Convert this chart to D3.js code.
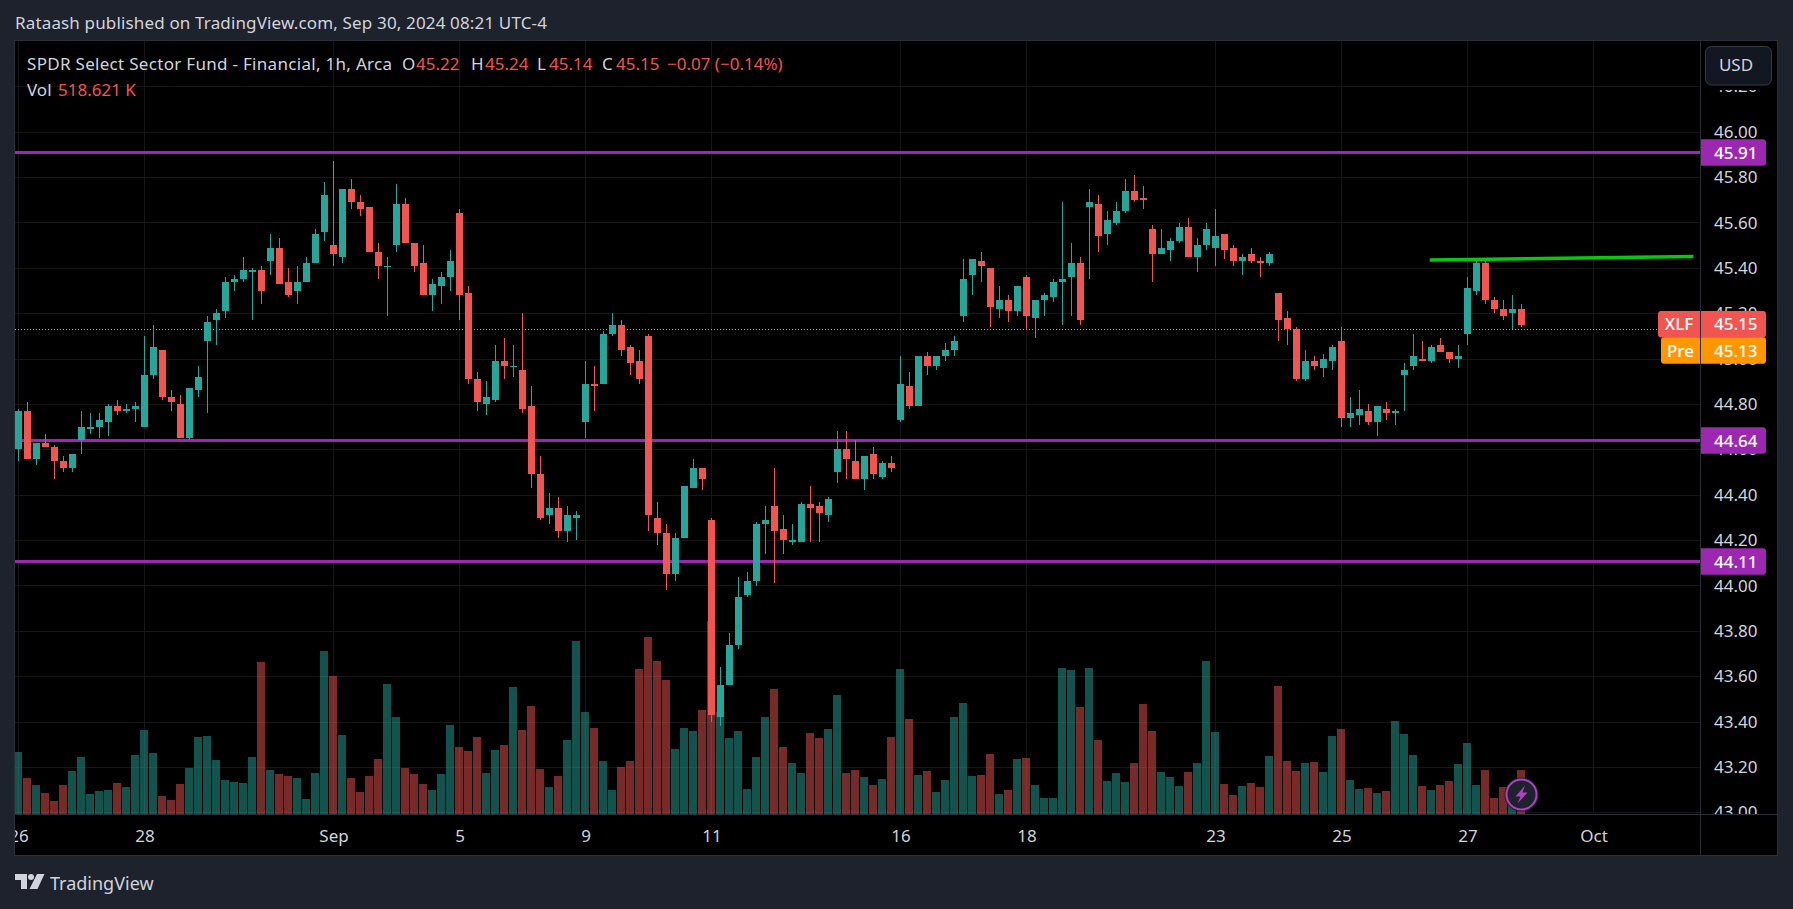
<!DOCTYPE html>
<html>
<head>
<meta charset="utf-8">
<script src="https://cdn.jsdelivr.net/npm/d3@7"></script>
<style>
  html, body { margin: 0; padding: 0; background: #1e222d; overflow: hidden; }
  text { font-family: "Noto Sans", sans-serif; }
</style>
</head>
<body>
<div id="graph-container"></div>
<script>
const opens = [
  44.60,44.77,44.56,44.63,44.61,44.55,44.52,44.64,44.69,44.70,
  44.72,44.79,44.77,44.78,44.70,44.93,45.04,44.83,44.80,44.65,
  44.86,45.08,45.17,45.21,45.34,45.35,45.38,45.39,45.43,45.49,
  45.34,45.30,45.34,45.42,45.56,45.50,45.45,45.75,45.69,45.67,
  45.47,45.41,45.50,45.68,45.51,45.42,45.28,45.32,45.36,45.64,
  45.29,44.91,44.80,44.82,44.99,44.97,44.95,44.79,44.49,44.31,
  44.34,44.24,44.30,44.72,44.89,44.89,45.11,45.15,45.05,44.99,
  45.10,44.30,44.23,44.05,44.21,44.43,44.52,44.29,43.42,43.56,
  43.74,43.96,44.02,44.27,44.35,44.25,44.19,44.19,44.36,44.35,
  44.31,44.50,44.60,44.55,44.47,44.58,44.48,44.54,44.73,44.88,
  44.79,45.01,44.97,45.01,45.04,45.19,45.37,45.43,45.40,45.22,
  45.26,45.21,45.36,45.18,45.26,45.27,45.34,45.36,45.42,45.67,
  45.68,45.55,45.60,45.65,45.74,45.71,45.57,45.46,45.48,45.52,
  45.58,45.45,45.50,45.49,45.55,45.49,45.43,45.46,45.43,45.42,
  45.29,45.18,45.13,44.91,44.99,44.96,44.99,45.08,44.74,44.75,
  44.77,44.72,44.78,44.76,44.93,44.97,45.00,44.99,45.06,45.03,
  45.00,45.11,45.30,45.42,45.26,45.22,45.20,45.22];
const highs = [
  44.78,44.81,44.63,44.67,44.62,44.57,44.58,44.77,44.76,44.76,
  44.80,44.82,44.80,44.81,45.10,45.15,45.04,44.86,44.84,44.87,
  44.97,45.19,45.22,45.36,45.37,45.45,45.40,45.41,45.55,45.53,
  45.40,45.41,45.45,45.57,45.78,45.87,45.75,45.79,45.72,45.67,
  45.51,45.45,45.77,45.71,45.51,45.50,45.35,45.38,45.48,45.66,
  45.32,44.94,44.90,45.06,45.09,45.06,45.20,44.88,44.57,44.41,
  44.39,44.35,44.33,44.99,44.97,45.12,45.20,45.17,45.06,45.04,
  45.11,44.37,44.27,44.23,44.44,44.56,44.52,44.30,43.64,43.79,
  44.04,44.06,44.28,44.35,44.52,44.31,44.27,44.37,44.44,44.37,
  44.39,44.68,44.68,44.64,44.57,44.61,44.55,44.57,45.01,44.94,
  45.01,45.03,45.01,45.07,45.10,45.44,45.44,45.47,45.40,45.32,
  45.28,45.32,45.37,45.26,45.29,45.35,45.69,45.51,45.45,45.75,
  45.72,45.65,45.69,45.79,45.81,45.76,45.59,45.57,45.53,45.60,
  45.62,45.53,45.60,45.66,45.55,45.50,45.46,45.49,45.45,45.47,
  45.29,45.21,45.14,45.04,45.01,45.02,45.06,45.14,44.83,44.86,
  44.80,44.79,44.81,44.78,44.98,45.11,45.08,45.06,45.09,45.03,
  45.06,45.36,45.43,45.43,45.27,45.26,45.28,45.24];
const lows = [
  44.55,44.56,44.53,44.61,44.47,44.50,44.50,44.58,44.67,44.65,
  44.66,44.75,44.76,44.72,44.70,44.91,44.82,44.77,44.65,44.64,
  44.83,44.76,45.06,45.18,45.30,45.34,45.17,45.24,45.37,45.33,
  45.27,45.24,45.34,45.42,45.52,45.41,45.42,45.66,45.63,45.47,
  45.35,45.19,45.47,45.51,45.38,45.28,45.21,45.24,45.30,45.17,
  44.89,44.77,44.75,44.81,44.91,44.92,44.76,44.43,44.29,44.27,
  44.21,44.19,44.20,44.65,44.77,44.89,45.10,45.01,44.93,44.89,
  44.24,44.18,43.98,44.02,44.21,44.43,44.42,43.40,43.38,43.56,
  43.72,43.95,44.00,44.14,44.01,44.14,44.18,44.19,44.19,44.19,
  44.28,44.45,44.47,44.47,44.42,44.47,44.47,44.50,44.72,44.78,
  44.79,44.93,44.95,44.99,45.01,45.16,45.28,45.34,45.14,45.18,
  45.16,45.19,45.13,45.09,45.19,45.25,45.15,45.19,45.15,45.35,
  45.47,45.50,45.59,45.64,45.69,45.66,45.34,45.46,45.43,45.51,
  45.45,45.38,45.48,45.41,45.44,45.41,45.37,45.42,45.36,45.41,
  45.08,45.06,44.90,44.90,44.95,44.92,44.95,44.70,44.70,44.71,
  44.71,44.66,44.73,44.71,44.77,44.95,44.99,44.98,45.03,44.98,
  44.96,45.06,45.28,45.24,45.20,45.17,45.13,45.14];
const closes = [
  44.77,44.56,44.63,44.61,44.55,44.52,44.58,44.70,44.70,44.73,
  44.79,44.77,44.78,44.79,44.93,45.05,44.83,44.81,44.65,44.87,
  44.92,45.16,45.20,45.34,45.35,45.39,45.39,45.30,45.49,45.33,
  45.28,45.34,45.42,45.55,45.72,45.46,45.75,45.69,45.66,45.47,
  45.41,45.41,45.68,45.51,45.41,45.28,45.33,45.36,45.43,45.28,
  44.91,44.81,44.83,44.99,44.97,44.97,44.78,44.49,44.30,44.34,
  44.24,44.31,44.31,44.89,44.88,45.11,45.15,45.04,44.98,44.91,
  44.31,44.23,44.05,44.21,44.44,44.52,44.47,43.43,43.56,43.74,
  43.95,44.02,44.27,44.29,44.24,44.20,44.20,44.36,44.34,44.32,
  44.38,44.60,44.56,44.47,44.57,44.49,44.54,44.52,44.89,44.79,
  45.01,44.97,45.01,45.04,45.08,45.35,45.44,45.41,45.23,45.26,
  45.21,45.32,45.19,45.26,45.28,45.34,45.35,45.42,45.17,45.69,
  45.54,45.61,45.65,45.74,45.70,45.70,45.46,45.49,45.52,45.58,
  45.45,45.50,45.57,45.54,45.48,45.43,45.45,45.43,45.42,45.46,
  45.17,45.13,44.91,44.99,44.97,45.00,45.05,44.74,44.76,44.78,
  44.72,44.79,44.76,44.77,44.95,45.01,44.99,45.05,45.03,45.00,
  45.01,45.31,45.42,45.26,45.22,45.19,45.22,45.15];
// volume in thousands of shares
const volumes = [
  731,424,342,248,153,342,507,672,236,271,
  283,365,318,696,990,719,212,165,354,542,
  908,920,637,401,377,365,672,1792,519,472,
  448,424,177,483,1922,1627,931,424,259,448,
  648,1533,1144,542,472,354,283,472,1049,790,
  743,908,483,755,814,1497,990,1273,531,318,
  448,872,2040,1203,1014,625,283,554,625,1710,
  2087,1804,1580,766,1014,979,1226,2275,1203,896,
  979,295,672,1144,1474,790,601,483,955,896,
  1002,1403,483,519,436,342,413,908,1710,1120,
  460,507,259,401,1144,1309,448,460,707,236,
  283,648,660,342,189,189,1721,1698,1262,1721,
  872,389,483,377,601,1297,979,495,436,330,
  495,601,1804,967,354,224,330,365,318,684,
  1509,625,507,601,613,495,920,1002,401,295,
  307,248,271,1096,943,696,330,283,342,389,
  590,837,342,519,189,318,322,519];

const dayIndex = [0,14,35,49,63,77,98,112,133,147,161,175];
const dayLabels = ["26","28","Sep","5","9","11","16","18","23","25","27","Oct"];
const priceTicks = [46.2,46,45.8,45.6,45.4,45.2,45,44.8,44.6,44.4,44.2,44,43.8,43.6,43.4,43.2,43];
const levels = [45.91,44.64,44.11];
const trendBars = [156.8,186.1];
const trendPrices = [45.435,45.45];
const lastPrice = 45.15, prePrice = 45.13;

const width = 1793, height = 909;
const plot = {left: 15, top: 41, right: 1700, bottom: 814, edge: 1777};
const teal = "#26a69a", red = "#f25450", purple = "#9c27b0", orange = "#ff9800", label = "#d1d4dc";

var svg = d3.select("#graph-container").append("svg")
    .attr("width", width).attr("height", height)
    .style("display", "block");

svg.append("rect").attr("width", width).attr("height", height).attr("fill", "#1e222d");

// clip rects, the series stop at the panes
var defs = svg.append("defs");
defs.append("clipPath").attr("id", "pane").append("rect")
    .attr("x", plot.left).attr("y", plot.top)
    .attr("width", plot.right - plot.left).attr("height", plot.bottom - plot.top);
defs.append("clipPath").attr("id", "time").append("rect")
    .attr("x", plot.left).attr("y", plot.bottom)
    .attr("width", plot.edge - plot.left).attr("height", 41);
defs.append("clipPath").attr("id", "prices").append("rect")
    .attr("x", plot.right).attr("y", 90)
    .attr("width", plot.edge - plot.right).attr("height", plot.bottom - 90);

// chart frame
svg.append("rect")
    .attr("x", plot.left - 0.5).attr("y", plot.top - 0.5)
    .attr("width", plot.edge - plot.left + 1).attr("height", 855 - plot.top + 1)
    .attr("fill", "#000").attr("stroke", "#2a2e39");

var x = d3.scaleLinear().domain([0, 175]).range([18.5, 1593.5]);
var y = d3.scaleLinear().domain([43, 46]).range([812.5, 131.8]);
var yVol = d3.scaleLinear().domain([0, d3.max(volumes)]).range([plot.bottom, 621]);

var pane = svg.append("g").attr("clip-path", "url(#pane)");

// grid
pane.append("g").selectAll("line").data(priceTicks).join("line")
    .attr("x1", plot.left).attr("x2", plot.right)
    .attr("y1", d => Math.round(y(d) - 0.2) + 0.5).attr("y2", d => Math.round(y(d) - 0.2) + 0.5)
    .attr("stroke", "#161616");
pane.append("g").selectAll("line").data(dayIndex).join("line")
    .attr("x1", d => x(d)).attr("x2", d => x(d))
    .attr("y1", plot.top).attr("y2", plot.bottom)
    .attr("stroke", "#161616");

var bars = d3.range(opens.length);
var isUp = i => closes[i] >= opens[i];

// volume
pane.append("g").selectAll("rect").data(bars).join("rect")
    .attr("x", i => x(i) - 4.5).attr("width", 8)
    .attr("y", i => yVol(volumes[i]))
    .attr("height", i => plot.bottom - yVol(volumes[i]))
    .attr("fill", i => isUp(i) ? "#26a69a" : "#ef5350")
    .attr("opacity", 0.5)
    .attr("shape-rendering", "crispEdges");

// horizontal levels
pane.append("g").selectAll("line").data(levels).join("line")
    .attr("x1", plot.left).attr("x2", plot.right)
    .attr("y1", d => Math.round(y(d)) + 0.5).attr("y2", d => Math.round(y(d)) + 0.5)
    .attr("stroke", purple).attr("stroke-width", 3);

// pre market price line
pane.append("line")
    .attr("x1", plot.left).attr("x2", 1658)
    .attr("y1", Math.floor(y(prePrice)) + 0.5).attr("y2", Math.floor(y(prePrice)) + 0.5)
    .attr("stroke", orange).attr("stroke-dasharray", "1 2");

// candles
var candles = pane.append("g");
candles.selectAll("line").data(bars).join("line")
    .attr("x1", i => x(i)).attr("x2", i => x(i))
    .attr("y1", i => y(highs[i])).attr("y2", i => y(lows[i]))
    .attr("stroke", i => isUp(i) ? teal : red)
    .attr("shape-rendering", "crispEdges");
candles.selectAll("rect").data(bars).join("rect")
    .attr("x", i => x(i) - 3.5).attr("width", 7)
    .attr("y", i => y(Math.max(opens[i], closes[i])))
    .attr("height", i => Math.max(1, Math.abs(y(opens[i]) - y(closes[i]))))
    .attr("fill", i => isUp(i) ? teal : red)
    .attr("shape-rendering", "crispEdges");

// green trend line
var trendLine = d3.line().x(d => x(d[0])).y(d => y(d[1]));
svg.append("path")
    .attr("d", trendLine(d3.zip(trendBars, trendPrices)))
    .attr("fill", "none").attr("stroke", "#0bc60f").attr("stroke-width", 3.5);

// lightning badge over the last bars
var badge = svg.append("g").attr("transform", `translate(${x(167)},794.5)`);
badge.append("circle").attr("r", 17).attr("fill", "#1e222d");
badge.append("circle").attr("r", 15).attr("fill", "#1e222d").attr("stroke", "#b33fc4").attr("stroke-width", 2);
badge.append("path").attr("d", "M3.5,-9 L-6,2 L-1,2 L-4,9 L6,-2 L1,-2 Z").attr("fill", "#b33fc4");

// axis panes
svg.append("line").attr("x1", plot.left).attr("x2", plot.edge)
    .attr("y1", plot.bottom + 0.5).attr("y2", plot.bottom + 0.5).attr("stroke", "#2a2e39");
svg.append("line").attr("x1", plot.right + 0.5).attr("x2", plot.right + 0.5)
    .attr("y1", plot.top).attr("y2", 855).attr("stroke", "#2a2e39");

var timeAxis = svg.append("g")
    .attr("clip-path", "url(#time)")
    .append("g")
    .attr("transform", `translate(0,${plot.bottom})`)
    .call(d3.axisBottom(x).tickValues(dayIndex).tickFormat((d, i) => dayLabels[i]).tickSize(0).tickPadding(16));
timeAxis.select(".domain").remove();
timeAxis.selectAll("text").attr("fill", label).style("font-size", "17px");

var priceAxis = svg.append("g")
    .attr("clip-path", "url(#prices)")
    .append("g")
    .attr("transform", `translate(${plot.right},0)`)
    .call(d3.axisRight(y).tickValues(priceTicks).tickFormat(d3.format(".2f")).tickSize(0).tickPadding(14));
priceAxis.select(".domain").remove();
priceAxis.selectAll("text").attr("fill", label).style("font-size", "17px");

// USD button
svg.append("rect").attr("x", 1705.5).attr("y", 46.5).attr("width", 66).attr("height", 38.5).attr("rx", 6)
    .attr("fill", "#131722").attr("stroke", "#363a45");
svg.append("text").attr("x", 1736).attr("y", 71).attr("text-anchor", "middle")
    .attr("fill", label).style("font-size", "17px").text("USD");

// price tags on the scale
var tagText = d3.format(".2f");
function priceTag(yMid, value, fill) {
  svg.append("path")
      .attr("d", `M1701,${yMid - 13.3} H1763 a3,3 0 0 1 3,3 V${yMid + 10.3} a3,3 0 0 1 -3,3 H1701 Z`)
      .attr("fill", fill);
  svg.append("text").attr("x", 1714).attr("y", yMid + 6)
      .attr("fill", "#fff").style("font-size", "17px").style("font-weight", 500).text(tagText(value));
}
levels.forEach(d => priceTag(Math.round(y(d)) + 0.5, d, purple));

function nameTag(x0, yMid, name, fill) {
  svg.append("path")
      .attr("d", `M1700,${yMid - 13.3} H${x0 + 3} a3,3 0 0 0 -3,3 V${yMid + 10.3} a3,3 0 0 0 3,3 H1700 Z`)
      .attr("fill", fill);
  svg.append("text").attr("x", (x0 + 1700) / 2).attr("y", yMid + 6).attr("text-anchor", "middle")
      .attr("fill", "#fff").style("font-size", "17px").style("font-weight", 500).text(name);
}
nameTag(1658, 324.2, "XLF", red);
priceTag(324.2, lastPrice, red);
nameTag(1661, 350.5, "Pre", orange);
priceTag(350.5, prePrice, orange);

// header and legend
svg.append("text").attr("x", 15).attr("y", 29).attr("fill", label)
    .style("font-size", "17px").style("letter-spacing", "0.15px")
    .text("Rataash published on TradingView.com, Sep 30, 2024 08:21 UTC-4");

var legend = svg.append("text").attr("y", 70).style("font-size", "17px");
[["SPDR Select Sector Fund - Financial, 1h, Arca", label, 27], ["O", label, 402], ["45.22", red, 416],
 ["H", label, 471], ["45.24", red, 485], ["L", label, 537], ["45.14", red, 549],
 ["C", label, 602], ["45.15", red, 616], ["\u22120.07 (\u22120.14%)", red, 667]]
  .forEach(d => legend.append("tspan").attr("x", d[2]).attr("fill", d[1]).text(d[0]));
legend.select("tspan").style("letter-spacing", "0.3px");

var volLegend = svg.append("text").attr("y", 96).style("font-size", "17px");
volLegend.append("tspan").attr("x", 27).attr("fill", label).text("Vol");
volLegend.append("tspan").attr("x", 58).attr("fill", red).text("518.621 K");

// TradingView mark
var logo = svg.append("g").attr("fill", label);
logo.append("path").attr("d", "M15,874 H27 V889 H21 V880 H15 Z");
logo.append("circle").attr("cx", 31).attr("cy", 877).attr("r", 3);
logo.append("path").attr("d", "M37,874 H44.5 L37.5,889 H29.5 Z");
svg.append("text").attr("x", 50).attr("y", 890).attr("fill", label).style("font-size", "18px").text("TradingView");
</script>
</body>
</html>
